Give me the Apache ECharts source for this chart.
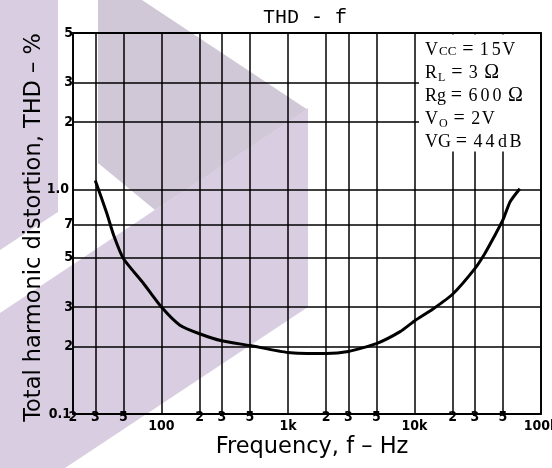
<!DOCTYPE html>
<html>
<head>
<meta charset="utf-8">
<style>
  html, body { margin: 0; padding: 0; background: #fff; }
  #chart { width: 552px; height: 468px; }
</style>
<script src="https://cdn.jsdelivr.net/npm/echarts@6/dist/echarts.min.js"></script>
</head>
<body>
<div id="chart"></div>
<script>
// ---- data ----
const freqHz = [30, 37, 42, 50, 72, 100, 140, 200, 300, 500, 1000, 2000, 3000, 5000, 7700, 10000, 14000, 20000, 30000, 36000, 42600, 50000, 57000, 68000];
const thdPct = [1.1, 0.785, 0.625, 0.494, 0.383, 0.30, 0.249, 0.228, 0.212, 0.202, 0.188, 0.186, 0.19, 0.206, 0.233, 0.26, 0.294, 0.342, 0.445, 0.52, 0.617, 0.733, 0.884, 1.01];

const xGridValues = [20, 30, 50, 100, 200, 300, 500, 1000, 2000, 3000, 5000, 10000, 20000, 30000, 50000, 100000];
const xTickLabels = ['2', '3', '5', '100', '2', '3', '5', '1k', '2', '3', '5', '10k', '2', '3', '5', '100k'];
const yGridValues = [0.1, 0.2, 0.3, 0.5, 0.7, 1, 2, 3, 5];
const yTickLabels = ['0.1', '2', '3', '5', '7', '1.0', '2', '3', '5'];

const titleText = 'THD - f';
const xName = 'Frequency, f \u2013 Hz';
const yName = 'Total harmonic distortion, THD \u2013 %';

const paramRows = [
  { lead: 'V', sub: 'CC', subKind: 'caps', value: '15V', unit: '' },
  { lead: 'R', sub: 'L', subKind: 'sub', value: '3', unit: '\u03a9' },
  { lead: 'Rg', sub: '', subKind: '', value: '600', unit: '\u03a9' },
  { lead: 'V', sub: 'O', subKind: 'sub', value: '2V', unit: '' },
  { lead: 'VG', sub: '', subKind: '', value: '44dB', unit: '' }
];

// ---- build ----
const chart = echarts.init(document.getElementById('chart'), null, { renderer: 'canvas' });

const tickFont = { fontFamily: '"DejaVu Sans Condensed", "DejaVu Sans", sans-serif', fontWeight: 'bold', fontSize: 14, color: '#000' };
const isDecade = v => Math.abs(Math.log10(v) - Math.round(Math.log10(v))) < 1e-9;

const xLines = xGridValues.map((v, i) => ({
  xAxis: v,
  label: Object.assign({ show: true, position: 'start', formatter: xTickLabels[i], distance: isDecade(v) ? 5 : -4 }, tickFont)
}));
const yLines = yGridValues.map((v, i) => {
  const lab = yTickLabels[i];
  const lbl = Object.assign({ show: true, position: 'start', formatter: lab, distance: lab.length > 1 ? 4 : 0 }, tickFont);
  if (lab === '0.1') { lbl.padding = [0, 0, 12, 0]; lbl.distance = 2; }
  return { yAxis: v, label: lbl };
});

function paramRich(row) {
  let s = '{b|' + row.lead + '}';
  if (row.sub) s += (row.subKind === 'caps' ? '{c|' : '{s|') + row.sub + '}';
  s += '{e|=}';
  for (const ch of row.value) s += (/[0-9]/.test(ch) ? '{d|' : '{l|') + ch + '}';
  if (row.unit) s += '{o|' + row.unit + '}';
  return s;
}
const serif = '"Liberation Serif", "DejaVu Serif", serif';
const richStyles = {
  b: { fontFamily: serif, fontSize: 18, color: '#000' },
  c: { fontFamily: serif, fontSize: 13, color: '#000', padding: [4, 1, 0, 1] },
  s: { fontFamily: serif, fontSize: 12, color: '#000', padding: [9, 1, 0, 1] },
  e: { fontFamily: serif, fontSize: 20, color: '#000', width: 21, align: 'center' },
  d: { fontFamily: serif, fontSize: 18, color: '#000', width: 12, align: 'center' },
  l: { fontFamily: serif, fontSize: 18, color: '#000', width: 13, align: 'center' },
  o: { fontFamily: serif, fontSize: 20, color: '#000', padding: [0, 0, 0, 5] }
};

const lavender = '#d9cde1';
const greyLav = '#d0c8d6';

const graphics = [
  { type: 'polygon', z: -5, silent: true, shape: { points: [[0, 0], [58, 0], [58, 212], [0, 250]] }, style: { fill: lavender } },
  { type: 'polygon', z: -5, silent: true, shape: { points: [[98, 0], [142, 0], [308, 110], [155, 210], [98, 163]] }, style: { fill: greyLav } },
  { type: 'polygon', z: -4, silent: true, shape: { points: [[0, 313], [308, 108], [308, 307], [65, 468], [0, 468]] }, style: { fill: lavender } },
  { type: 'rect', z: 50, silent: true, shape: { x: 419, y: 34.5, width: 121, height: 117 }, style: { fill: '#fff' } }
];
paramRows.forEach((row, i) => {
  graphics.push({
    type: 'text', z: 60, silent: true, x: 425, y: 50 + i * 23,
    style: { text: paramRich(row), rich: richStyles, verticalAlign: 'middle', align: 'left' }
  });
});

const option = {
  backgroundColor: '#fff',
  animation: false,
  title: {
    text: titleText, left: 258, top: 3,
    textStyle: { fontFamily: '"Liberation Mono", "DejaVu Sans Mono", monospace', fontSize: 20, fontWeight: 'normal', color: '#000' }
  },
  grid: { left: 73, right: 11, top: 33, bottom: 54, show: true, borderColor: '#000', borderWidth: 1.8, backgroundColor: 'transparent', z: 0 },
  xAxis: {
    type: 'log', logBase: 10, min: 20, max: 100000,
    name: xName, nameLocation: 'middle', nameGap: 22,
    nameTextStyle: { fontFamily: '"DejaVu Sans", sans-serif', fontSize: 22.5, color: '#000', padding: [0, 0, 0, 10] },
    axisLine: { show: false }, axisTick: { show: false }, axisLabel: { show: false }, splitLine: { show: false }
  },
  yAxis: {
    type: 'log', logBase: 10, min: 0.1, max: 5,
    name: yName, nameLocation: 'middle', nameRotate: 90, nameGap: 27,
    nameTextStyle: { fontFamily: '"DejaVu Sans", sans-serif', fontSize: 22.5, color: '#000', padding: [0, 8, 0, 0] },
    axisLine: { show: false }, axisTick: { show: false }, axisLabel: { show: false }, splitLine: { show: false }
  },
  series: [
    {
      type: 'line', data: [], z: 1, silent: true,
      markLine: {
        silent: true, symbol: ['none', 'none'], animation: false,
        lineStyle: { color: '#000', width: 1.5, type: 'solid' },
        emphasis: { disabled: true },
        data: xLines.concat(yLines)
      }
    },
    {
      type: 'line', z: 3, silent: true, smooth: 0.2, showSymbol: false,
      lineStyle: { color: '#000', width: 3 },
      data: freqHz.map((f, i) => [f, thdPct[i]])
    }
  ],
  graphic: graphics
};
chart.setOption(option);
</script>
</body>
</html>
